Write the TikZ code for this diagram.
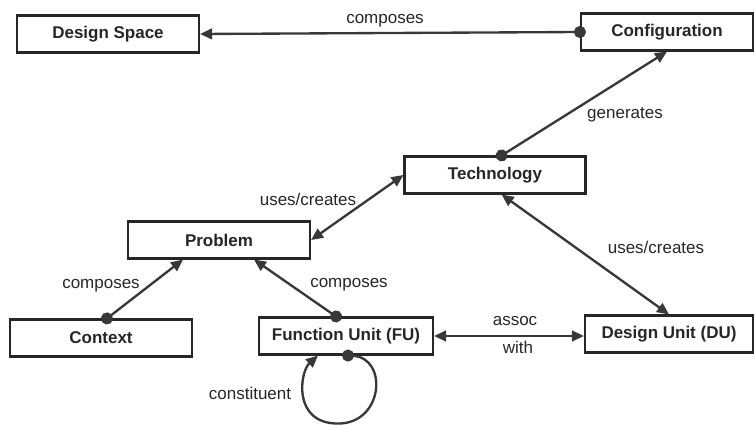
\documentclass[tikz,border=0pt]{standalone}
\usepackage{fontspec}
\setmainfont{Liberation Sans}
\usetikzlibrary{arrows.meta,positioning,calc}
\definecolor{DsInk}{HTML}{262626}
\definecolor{DsLine}{HTML}{383838}
\tikzset{
  dsbox/.style={
    draw=DsInk,
    line width=1.8pt,
    minimum height=1.11cm,
    inner sep=2pt,
    font=\fontsize{14.5}{17}\selectfont\bfseries,
    text=DsInk
  },
  dslabel/.style={
    font=\fontsize{14.5}{17}\selectfont,
    text=DsInk,
    inner sep=1pt
  },
  dsboth/.style={{Triangle[length=3.6mm,width=3.2mm]}-{Triangle[length=3.6mm,width=3.2mm]},line width=2pt,draw=DsLine},
  dscomp/.style={{Circle[length=3.6mm]}-{Triangle[length=3.6mm,width=3.2mm]},line width=2pt,draw=DsLine,shorten <=-1.8mm}
}
\begin{document}
\begin{tikzpicture}[x=0.03cm,y=-0.03cm]
    \useasboundingbox (0,0) rectangle (756,425);
    \node[dsbox,minimum width=5.46cm] (dspace) at (108,34) {Design Space};
    \node[dsbox,minimum width=5.16cm] (config) at (667,32) {Configuration};
    \node[dsbox,minimum width=5.43cm] (tech) at (495,175) {Technology};
    \node[dsbox,minimum width=5.46cm] (problem) at (219,240) {Problem};
    \node[dsbox,minimum width=5.46cm] (context) at (101,338) {Context};
    \node[dsbox,minimum width=5.22cm] (fu) at (346,336) {Function Unit (FU)};
    \node[dsbox,minimum width=5.04cm] (du) at (669,334) {Design Unit (DU)};
    \draw[dscomp] (config.west) -- (dspace.east);
    \draw[dscomp] ([xshift=0.2cm]tech.north) -- (config.south);
    \draw[dsboth] (problem.east) -- (tech.west);
    \draw[dsboth] ([xshift=0.2cm]tech.south) -- (du.north);
    \draw[dscomp] ([xshift=0.18cm]context.north) -- ([xshift=-1.08cm]problem.south);
    \draw[dscomp] ([xshift=-0.3cm]fu.north) -- ([xshift=1.05cm]problem.south);
    \draw[dsboth] (fu.east) -- (fu.east -| du.west);
    \draw[dscomp] ([xshift=0.06cm]fu.south) .. controls +(40,2) and +(46,0) .. ($(fu.south)+(-8,68)$)
      .. controls +(-46,0) and +(-18,16) .. ([xshift=-0.84cm]fu.south);
    \node[dslabel] (cfglbl) at (385,21) {composes};
    \node[dslabel] (genlbl) at (625,115) {generates};
    \node[dslabel] (usesleft) at (308,199) {uses/creates};
    \node[dslabel] (usesright) at (656,247) {uses/creates};
    \node[dslabel] (ctxlbl) at (101,286) {composes};
    \node[dslabel] (fulbl) at (349,285) {composes};
    \node[dslabel] (assoclbl) at (515,321) {assoc};
    \node[dslabel] (withlbl) at (518,347) {with};
    \node[dslabel] (looplbl) at (250,393) {constituent};
  \end{tikzpicture}
\end{document}
